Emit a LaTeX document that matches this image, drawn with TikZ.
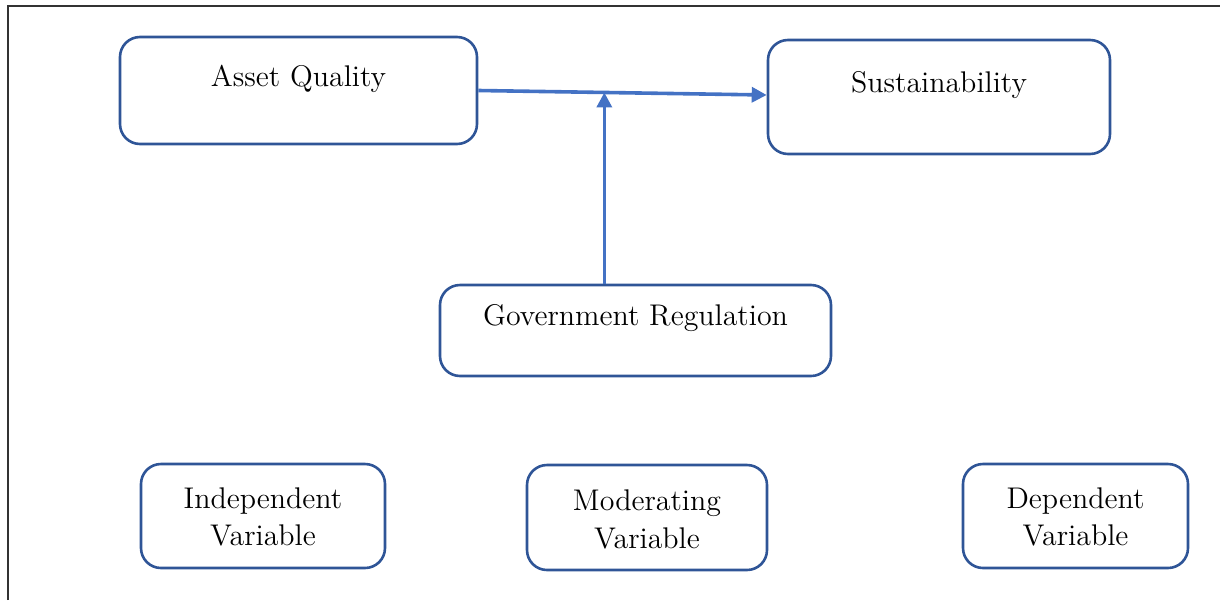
\documentclass[tikz,border=0pt]{standalone}
\usetikzlibrary{arrows.meta,calc}
\definecolor{boxblue}{HTML}{2F5597}
\definecolor{arrowblue}{HTML}{4472C4}
\tikzset{
  vbox/.style={draw=boxblue, line width=1.3pt, rounded corners=10pt, inner sep=0pt},
  vtext/.style={font=\fontsize{14.95}{18.8}\selectfont, align=center, inner sep=0pt},
  flow/.style={draw=arrowblue, line width=1.8pt, -{Triangle[length=7.5pt,width=7.5pt]}},
  frame/.style={draw=black!80, line width=0.75pt}
}
\begin{document}
\begin{tikzpicture}[x=0.5pt,y=-0.5pt]
\useasboundingbox (0,0) rectangle (1220,600);
\coordinate (ftl) at (8,6);
\coordinate (fbl) at (8,600);
\coordinate (ftr) at (1220,6);
\draw[frame] (fbl) -- (ftl) -- (ftr);

\node[vbox, minimum width=178.5pt, minimum height=53.5pt] (aq) at (298.5,90.5) {};
\node[vbox, minimum width=171pt, minimum height=57pt] (su) at (939,97) {};
\node[vbox, minimum width=195.5pt, minimum height=45.5pt] (gr) at (635.5,330.5) {};
\node[vbox, minimum width=122pt, minimum height=52pt] (iv) at (263,516) {};
\node[vbox, minimum width=120pt, minimum height=52.5pt] (mv) at (647,517.5) {};
\node[vbox, minimum width=112.5pt, minimum height=52pt] (dv) at (1075.5,516) {};

\node[vtext] (aqt) at ($(aq.center)+(0,-12)$) {Asset Quality};
\node[vtext] (sut) at ($(su.center)+(0,-12)$) {Sustainability};
\node[vtext] (grt) at ($(gr.center)+(0,-12)$) {Government Regulation};
\node[vtext] (ivt) at ($(iv.center)+(0,1)$) {Independent\\Variable};
\node[vtext] (mvt) at ($(mv.center)+(0,2)$) {Moderating\\Variable};
\node[vtext] (dvt) at ($(dv.center)+(0,1)$) {Dependent\\Variable};

\coordinate (suin) at ($(su.west)+(0,-2)$);
\draw[flow] (aq.east) -- (suin);
\coordinate (mid) at ($(aq.east)!0.437!(suin)$);
\draw[flow] (gr.north -| mid) -- (mid);
\end{tikzpicture}
\end{document}
